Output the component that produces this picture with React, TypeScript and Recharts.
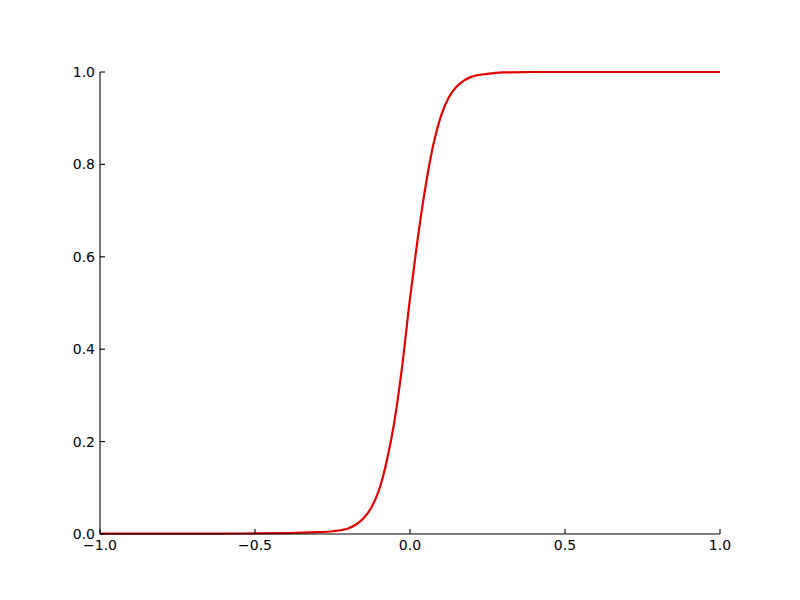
import { LineChart, Line, XAxis, YAxis } from 'recharts'

const xValues = [
  -1.0, -0.6, -0.4, -0.3, -0.25, -0.2, -0.175, -0.15, -0.125, -0.1, -0.075, -0.05, -0.025, 0.0, 0.025, 0.05,
  0.075, 0.1, 0.125, 0.15, 0.175, 0.2, 0.25, 0.3, 0.4, 0.6, 1.0,
]
const yValues = [
  0.001, 0.001, 0.002, 0.004, 0.006, 0.012, 0.02, 0.034, 0.057, 0.095, 0.158, 0.245, 0.365, 0.51, 0.64, 0.752,
  0.842, 0.905, 0.945, 0.968, 0.982, 0.99, 0.996, 0.999, 1.0, 1.0, 1.0,
]
const xTicks = [-1.0, -0.5, 0.0, 0.5, 1.0]
const yTicks = [0.0, 0.2, 0.4, 0.6, 0.8, 1.0]

const data = xValues.map((x, i) => ({ x, y: yValues[i] }))

const fmt = (v: number) => v.toFixed(1).replace('-', '\u2212')

const FONT = 'DejaVu Sans'

function XTick({ x, y, payload }: any) {
  return (
    <g>
      <line x1={x} x2={x} y1={y} y2={y - 5} stroke="#000" strokeWidth={1.1} />
      <text x={x} y={y + 16} textAnchor="middle" fontFamily={FONT} fontSize={14} fill="#000">
        {fmt(payload.value)}
      </text>
    </g>
  )
}

function YTick({ x, y, payload }: any) {
  return (
    <g>
      <line x1={x} x2={x + 5} y1={y} y2={y} stroke="#000" strokeWidth={1.1} />
      <text x={x - 5} y={y + 5} textAnchor="end" fontFamily={FONT} fontSize={14} fill="#000">
        {fmt(payload.value)}
      </text>
    </g>
  )
}

export default function App() {
  return (
    <div style={{ position: 'absolute', left: 0, top: 0, width: 800, height: 600, background: '#fff' }}>
      <LineChart width={800} height={600} data={data} margin={{ top: 72, right: 80, bottom: 36, left: 60 }}>
        <XAxis
          dataKey="x"
          type="number"
          domain={[-1, 1]}
          ticks={xTicks}
          interval={0}
          height={30}
          tickSize={0}
          tickMargin={0}
          tickLine={false}
          tick={<XTick />}
          axisLine={{ stroke: '#000', strokeWidth: 1.1 }}
        />
        <YAxis
          type="number"
          domain={[0, 1]}
          ticks={yTicks}
          interval={0}
          width={40}
          tickSize={0}
          tickMargin={0}
          tickLine={false}
          tick={<YTick />}
          axisLine={{ stroke: '#000', strokeWidth: 1.1 }}
        />
        <Line
          dataKey="y"
          type="monotone"
          stroke="#e00000"
          strokeWidth={2.2}
          dot={false}
          isAnimationActive={false}
        />
      </LineChart>
    </div>
  )
}
